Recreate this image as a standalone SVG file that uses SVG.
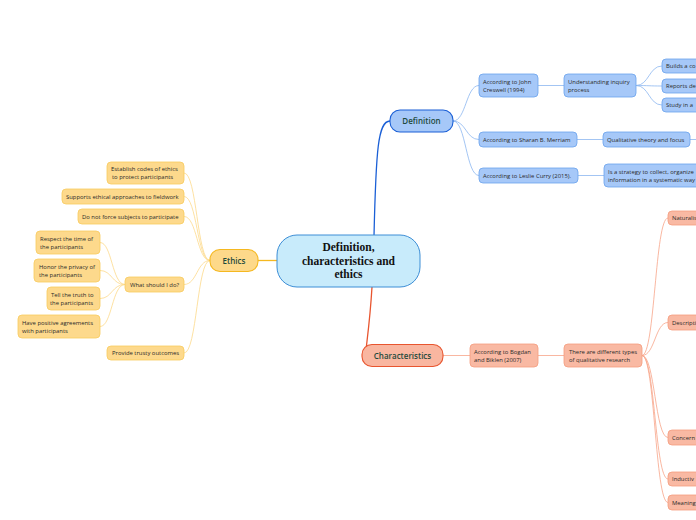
<svg xmlns="http://www.w3.org/2000/svg" width="696" height="520" viewBox="0 0 696 520">
<style>
.t{font-family:"Open Sans","Noto Sans",sans-serif;font-size:5.9px;fill:#2a2a2a}
.m{font-family:"Open Sans","Noto Sans",sans-serif;font-size:8px;font-weight:600;fill:#1e4a3c}
.c{font-family:"Liberation Serif",serif;font-size:11.5px;font-weight:bold;fill:#111;text-anchor:middle}
.d rect{fill:#a6c8f8;stroke:#6aa2ec;stroke-width:0.8}
.e rect{fill:#fdd98c;stroke:#f8cb5e;stroke-width:0.8}
.h rect{fill:#f9b9a3;stroke:#f59c7e;stroke-width:0.8}
.ld{fill:none;stroke:#8cb6f0;stroke-width:0.8}
.le{fill:none;stroke:#fcd98a;stroke-width:0.8}
.lh{fill:none;stroke:#f8a589;stroke-width:0.8}
</style>
<rect width="696" height="520" fill="#fff"/>
<g id="connectors">
<path d="M374 236 C376 150 378 121 390 121" fill="none" stroke="#1a5fd6" stroke-width="1.3"/>
<path d="M372 287 C370 320 367 340 366 350" fill="none" stroke="#e8552f" stroke-width="1.3"/>
<path d="M258 260.5 L277 260.5" fill="none" stroke="#f5b820" stroke-width="1.3"/>
<path class="ld" d="M453 121 C466 121 466 85.5 479 85.5"/>
<path class="ld" d="M453 121 C466 121 466 139.5 479 139.5"/>
<path class="ld" d="M453 121 C466 121 466 175.5 479 175.5"/>
<path class="ld" d="M538 85.5 L564 85.5"/>
<path class="ld" d="M577 139.5 L603 139.5"/>
<path class="ld" d="M690 139.5 L696 139.5"/>
<path class="ld" d="M578 175.5 L604 175.5"/>
<path class="ld" d="M636 85.5 C649 85.5 649 66 662 66"/>
<path class="ld" d="M636 85.5 C649 85.5 649 86 662 86"/>
<path class="ld" d="M636 85.5 C649 85.5 649 105 662 105"/>
<path class="lh" d="M443 355.5 L470 355.5"/>
<path class="lh" d="M538 355.5 L564 355.5"/>
<path class="lh" d="M642 355.5 C655 355.5 655 218 668 218"/>
<path class="lh" d="M642 355.5 C655 355.5 655 322.5 668 322.5"/>
<path class="lh" d="M642 355.5 C655 355.5 655 437.5 668 437.5"/>
<path class="lh" d="M642 355.5 C655 355.5 655 479 668 479"/>
<path class="lh" d="M642 355.5 C655 355.5 655 502.5 668 502.5"/>
<path class="le" d="M210 260.5 C197 260.5 197 173 184 173"/>
<path class="le" d="M210 260.5 C197 260.5 197 196.5 184 196.5"/>
<path class="le" d="M210 260.5 C197 260.5 197 216.5 184 216.5"/>
<path class="le" d="M210 260.5 C197 260.5 197 284.5 184 284.5"/>
<path class="le" d="M210 260.5 C197 260.5 197 353 184 353"/>
<path class="le" d="M125 284.5 C112 284.5 112 242.5 100 242.5"/>
<path class="le" d="M125 284.5 C112 284.5 112 270.5 100 270.5"/>
<path class="le" d="M125 284.5 C112 284.5 112 298.5 100 298.5"/>
<path class="le" d="M125 284.5 C112 284.5 112 326.5 100 326.5"/>
</g>
<g id="central">
<rect x="277" y="235" width="143" height="52" rx="20" fill="#c8ebfb" stroke="#3d8ed6" stroke-width="1"/>
<text class="c" x="348.5" y="251">Definition,</text>
<text class="c" x="348.5" y="265">characteristics and</text>
<text class="c" x="348.5" y="278">ethics</text>
</g>
<g id="definition">
<rect x="390" y="110" width="63" height="22" rx="10" fill="#a6c8f8" stroke="#1a5fd6" stroke-width="1.1"/>
<text class="m" x="421.5" y="124" text-anchor="middle">Definition</text>
</g>
<g id="characteristics">
<rect x="362" y="344.5" width="81" height="22" rx="10" fill="#f9b6a0" stroke="#e8552f" stroke-width="1.1"/>
<text class="m" x="402.5" y="358.5" text-anchor="middle">Characteristics</text>
</g>
<g id="ethics">
<rect x="210" y="249.5" width="48" height="22" rx="10" fill="#fdd98a" stroke="#f5b820" stroke-width="1.1"/>
<text class="m" x="234" y="263.5" text-anchor="middle">Ethics</text>
</g>
<g id="d1" class="d"><rect x="479" y="74" width="59" height="23" rx="4"/><text class="t" x="483" y="83.5">According to John</text><text class="t" x="483" y="91.5">Creswell (1994)</text></g>
<g id="d2" class="d"><rect x="479" y="132" width="98" height="15" rx="4"/><text class="t" x="483" y="141.5">According to Sharan B. Merriam</text></g>
<g id="d3" class="d"><rect x="479" y="168" width="99" height="15" rx="4"/><text class="t" x="483" y="177.5">According to Leslie Curry (2015).</text></g>
<g id="d11" class="d"><rect x="564" y="74" width="72" height="23" rx="4"/><text class="t" x="568" y="83.5">Understanding inquiry</text><text class="t" x="568" y="91.5">process</text></g>
<g id="d21" class="d"><rect x="603" y="132" width="87" height="15" rx="4"/><text class="t" x="607" y="141.5">Qualitative theory and focus</text></g>
<g id="d31" class="d"><rect x="604" y="164" width="100" height="23" rx="4"/><text class="t" x="608" y="173.5">Is a strategy to collect, organize</text><text class="t" x="608" y="181.5">information in a systematic way</text></g>
<g id="d111" class="d"><rect x="662" y="59" width="50" height="14" rx="4"/><text class="t" x="666" y="68">Builds a co</text></g>
<g id="d112" class="d"><rect x="662" y="79" width="50" height="14" rx="4"/><text class="t" x="666" y="88">Reports de</text></g>
<g id="d113" class="d"><rect x="662" y="98" width="50" height="14" rx="4"/><text class="t" x="666" y="107">Study in a</text></g>
<g id="c1" class="h"><rect x="470" y="344" width="68" height="23" rx="4"/><text class="t" x="474" y="353.5">According to Bogdan</text><text class="t" x="474" y="361.5">and Biklen (2007)</text></g>
<g id="c11" class="h"><rect x="564" y="344" width="78" height="23" rx="4"/><text class="t" x="569" y="353.5">There are different types</text><text class="t" x="569" y="361.5">of qualitative research</text></g>
<g id="c111" class="h"><rect x="668" y="211" width="40" height="14" rx="4"/><text class="t" x="672" y="220">Naturalis</text></g>
<g id="c112" class="h"><rect x="668" y="315" width="40" height="15" rx="4"/><text class="t" x="672" y="324.5">Descripti</text></g>
<g id="c113" class="h"><rect x="668" y="430" width="40" height="15" rx="4"/><text class="t" x="672" y="439.5">Concern</text></g>
<g id="c114" class="h"><rect x="668" y="472" width="40" height="14" rx="4"/><text class="t" x="672" y="481">Inductiv</text></g>
<g id="c115" class="h"><rect x="668" y="495" width="40" height="15" rx="4"/><text class="t" x="672" y="504.5">Meaning</text></g>
<g id="e1" class="e"><rect x="107" y="162" width="77" height="22" rx="4"/><text class="t" x="111" y="171">Establish codes of ethics</text><text class="t" x="112" y="179">to protect participants</text></g>
<g id="e2" class="e"><rect x="62" y="189" width="122" height="15" rx="4"/><text class="t" x="66" y="198.5">Supports ethical approaches to fieldwork</text></g>
<g id="e3" class="e"><rect x="78" y="209" width="106" height="15" rx="4"/><text class="t" x="82" y="218.5">Do not force subjects to participate</text></g>
<g id="e4" class="e"><rect x="125" y="277" width="59" height="15" rx="4"/><text class="t" x="130" y="286.5">What should I do?</text></g>
<g id="e5" class="e"><rect x="107" y="346" width="77" height="14" rx="4"/><text class="t" x="112" y="355">Provide trusty outcomes</text></g>
<g id="e41" class="e"><rect x="36" y="231" width="64" height="23" rx="4"/><text class="t" x="40" y="240.5">Respect the time of</text><text class="t" x="40" y="248.5">the participants</text></g>
<g id="e42" class="e"><rect x="34" y="259" width="66" height="23" rx="4"/><text class="t" x="39" y="268.5">Honor the privacy of</text><text class="t" x="39" y="276.5">the participants</text></g>
<g id="e43" class="e"><rect x="47" y="287" width="53" height="23" rx="4"/><text class="t" x="51" y="296.5">Tell the truth to</text><text class="t" x="50" y="304.5">the participants</text></g>
<g id="e44" class="e"><rect x="18" y="315" width="82" height="23" rx="4"/><text class="t" x="22" y="324.5">Have positive agreements</text><text class="t" x="22" y="332.5">with participants</text></g>
</svg>
